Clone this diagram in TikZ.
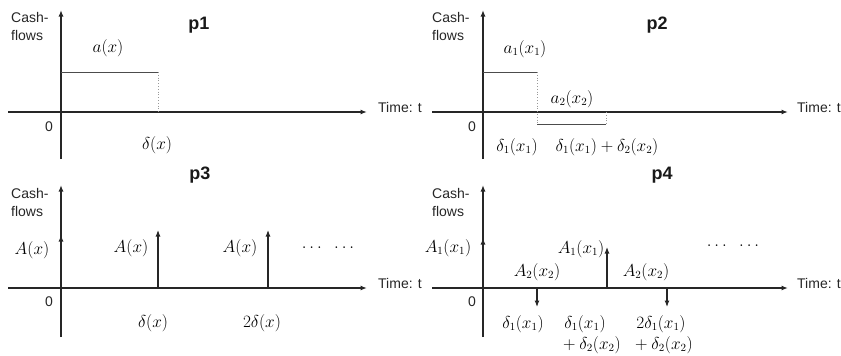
\documentclass[tikz,border=0pt]{standalone}
\usepackage{fontspec}
\setmainfont{Liberation Sans}
\usetikzlibrary{arrows.meta}
\tikzset{
  axis/.style={line width=1.3pt, draw=black!85, -{Latex[length=6.5pt,width=5pt]}},
  flow/.style={line width=1.1pt, draw=black!85, -{Latex[length=6.5pt,width=5pt]}},
  box/.style={line width=1pt, draw=black!70},
  dotv/.style={line width=0.8pt, draw=black!40, dotted},
  lbl/.style={font=\fontsize{14}{18}\selectfont, text=black!85, inner sep=0pt, align=left},
  ttl/.style={font=\fontsize{18}{20}\selectfont\bfseries, text=black!90, inner sep=0pt},
  mth/.style={font=\fontsize{16}{18}\selectfont, text=black, inner sep=0pt}
}
\begin{document}
\begin{tikzpicture}[x=1pt,y=-1pt]
\useasboundingbox (0,0) rectangle (841,356);
% ---------- p1 ----------
\coordinate (p1yb) at (61,159); \coordinate (p1yt) at (61,10);
\coordinate (p1xl) at (8,112);  \coordinate (p1xr) at (367,112);
\coordinate (p1a) at (61,72); \coordinate (p1b) at (158,72); \coordinate (p1c) at (158,112);
\draw[axis] (p1yb) -- (p1yt);
\draw[axis] (p1xl) -- (p1xr);
\draw[box] (p1a) -- (p1b);
\draw[dotv] (p1b) -- (p1c);
\node[lbl, anchor=west] (p1cf) at (11,26) {Cash-\\flows};
\node[ttl] (p1t) at (199,25) {p1};
\node[mth] (p1ax) at (108,48) {$a(x)$};
\node[lbl] (p1z) at (49,127) {0};
\node[mth] (p1d) at (157,145) {$\delta(x)$};
\node[lbl, anchor=west] (p1time) at (378,107) {Time: t};
% ---------- p2 ----------
\coordinate (p2yb) at (483,159); \coordinate (p2yt) at (483,10);
\coordinate (p2xl) at (432,112); \coordinate (p2xr) at (788,112);
\coordinate (p2a) at (483,72); \coordinate (p2b) at (537,72);
\coordinate (p2c) at (537,124); \coordinate (p2d) at (606,124); \coordinate (p2e) at (606,112);
\draw[axis] (p2yb) -- (p2yt);
\draw[axis] (p2xl) -- (p2xr);
\draw[box] (p2a) -- (p2b);
\draw[dotv] (p2b) -- (p2c);
\draw[box] (p2c) -- (p2d);
\draw[dotv] (p2d) -- (p2e);
\node[lbl, anchor=west] (p2cf) at (432,26) {Cash-\\flows};
\node[ttl] (p2t) at (657,25) {p2};
\node[mth] (p2a1) at (525,49) {$a_1(x_1)$};
\node[mth] (p2a2) at (572,99) {$a_2(x_2)$};
\node[lbl] (p2z) at (472,127) {0};
\node[mth] (p2d1) at (517,147) {$\delta_1(x_1)$};
\node[mth] (p2d2) at (607,147) {$\delta_1(x_1)+\delta_2(x_2)$};
\node[lbl, anchor=west] (p2time) at (797,107) {Time: t};
% ---------- p3 ----------
\coordinate (p3yb) at (61,337); \coordinate (p3yt) at (61,185);
\coordinate (p3xl) at (8,288);  \coordinate (p3xr) at (367,288);
\coordinate (p3o) at (61,288);  \coordinate (p3f0) at (61,235);
\coordinate (p3s1) at (158,288); \coordinate (p3f1) at (158,230);
\coordinate (p3s2) at (268,288); \coordinate (p3f2) at (268,230);
\draw[axis] (p3yb) -- (p3yt);
\draw[axis] (p3xl) -- (p3xr);
\draw[flow] (p3o) -- (p3f0);
\draw[flow] (p3s1) -- (p3f1);
\draw[flow] (p3s2) -- (p3f2);
\node[lbl, anchor=west] (p3cf) at (11,202) {Cash-\\flows};
\node[ttl] (p3t) at (200,175) {p3};
\node[mth] (p3A0) at (32,250) {$A(x)$};
\node[mth] (p3A1) at (131,248) {$A(x)$};
\node[mth] (p3A2) at (240,248) {$A(x)$};
\node[mth] (p3dots) at (328,248) {$\ldots\;\;\ldots$};
\node[lbl] (p3z) at (49,302) {0};
\node[mth] (p3d1) at (153,323) {$\delta(x)$};
\node[mth] (p3d2) at (262,323) {$2\delta(x)$};
\node[lbl, anchor=west] (p3time) at (378,283) {Time: t};
% ---------- p4 ----------
\coordinate (p4yb) at (483,337); \coordinate (p4yt) at (483,185);
\coordinate (p4xl) at (432,288); \coordinate (p4xr) at (788,288);
\coordinate (p4o) at (483,288); \coordinate (p4f0) at (483,238);
\coordinate (p4s1) at (537,288); \coordinate (p4f1) at (537,307);
\coordinate (p4s2) at (607,288); \coordinate (p4f2) at (607,247);
\coordinate (p4s3) at (667,288); \coordinate (p4f3) at (667,307);
\draw[axis] (p4yb) -- (p4yt);
\draw[axis] (p4xl) -- (p4xr);
\draw[flow] (p4o) -- (p4f0);
\draw[flow] (p4s1) -- (p4f1);
\draw[flow] (p4s2) -- (p4f2);
\draw[flow] (p4s3) -- (p4f3);
\node[lbl, anchor=west] (p4cf) at (432,202) {Cash-\\flows};
\node[ttl] (p4t) at (662,175) {p4};
\node[mth] (p4A0) at (448,248) {$A_1(x_1)$};
\node[mth] (p4A1) at (581,249) {$A_1(x_1)$};
\node[mth] (p4A2) at (537,272) {$A_2(x_2)$};
\node[mth] (p4A3) at (646,272) {$A_2(x_2)$};
\node[mth] (p4dots) at (733,246) {$\ldots\;\;\ldots$};
\node[lbl] (p4z) at (472,302) {0};
\node[mth] (p4d1) at (523,324) {$\delta_1(x_1)$};
\node[mth] (p4d2) at (585,324) {$\delta_1(x_1)$};
\node[mth] (p4d2b) at (590,345) {${}+\delta_2(x_2)$};
\node[mth] (p4d3) at (661,324) {$2\delta_1(x_1)$};
\node[mth] (p4d3b) at (662,345) {${}+\delta_2(x_2)$};
\node[lbl, anchor=west] (p4time) at (797,283) {Time: t};
\end{tikzpicture}
\end{document}
